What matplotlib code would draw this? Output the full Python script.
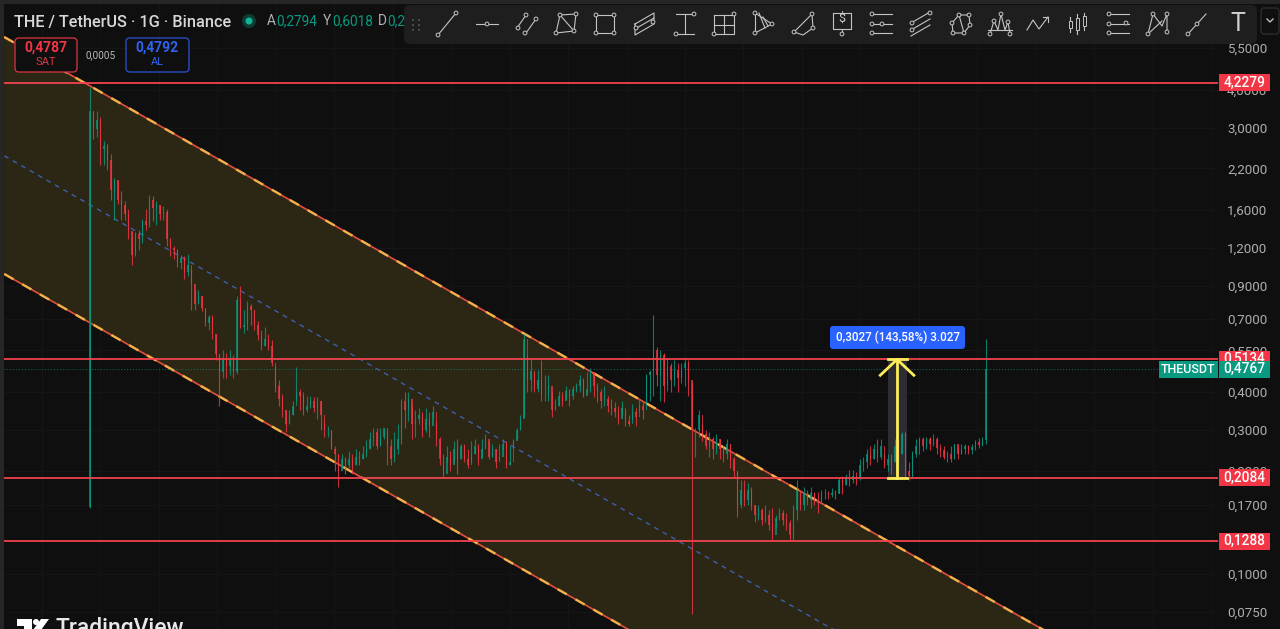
# plot.py - THE/USDT daily chart, dark theme
import matplotlib
matplotlib.use("Agg")
import matplotlib.pyplot as plt
import numpy as np
from matplotlib.patches import Rectangle, FancyBboxPatch, Polygon, Circle
from matplotlib.ticker import FuncFormatter, NullLocator

plt.rcParams["font.family"] = ["Roboto", "DejaVu Sans"]

BG = "#0f0f0f"
UP = "#089981"
DOWN = "#f23645"
BLUE = "#2962ff"

first_open = 0.167
closes = [
    3.40, 2.96, 3.19, 2.54, 2.60, 2.35, 1.87, 2.02, 1.73, 1.67,
    1.55, 1.36, 1.14, 1.33, 1.28, 1.47, 1.43, 1.73, 1.63, 1.67,
    1.55, 1.58, 1.28, 1.20, 1.18, 1.07, 1.11, 1.00, 1.05, 0.91,
    0.78, 0.83, 0.76, 0.68, 0.71, 0.625, 0.535, 0.465, 0.515, 0.49,
    0.51, 0.465, 0.81, 0.655, 0.665, 0.77, 0.75, 0.665, 0.62, 0.57,
    0.60, 0.57, 0.50, 0.42, 0.38, 0.35, 0.315, 0.335, 0.36, 0.40,
    0.39, 0.35, 0.36, 0.375, 0.355, 0.375, 0.335, 0.30, 0.30, 0.26,
    0.25, 0.22, 0.24, 0.23, 0.24, 0.23, 0.245, 0.24, 0.25, 0.26,
    0.28, 0.295, 0.265, 0.285, 0.305, 0.265, 0.24, 0.26, 0.28, 0.375,
    0.35, 0.38, 0.315, 0.325, 0.335, 0.30, 0.325, 0.31, 0.345, 0.28,
    0.24, 0.215, 0.245, 0.23, 0.26, 0.24, 0.265, 0.24, 0.23, 0.25,
    0.265, 0.24, 0.26, 0.28, 0.245, 0.26, 0.235, 0.245, 0.27, 0.23,
    0.235, 0.275, 0.30, 0.325, 0.60, 0.44, 0.47, 0.41, 0.44, 0.39,
    0.39, 0.42, 0.35, 0.36, 0.39, 0.375, 0.405, 0.39, 0.41, 0.42,
    0.44, 0.39, 0.41, 0.465, 0.42, 0.40, 0.375, 0.38, 0.36, 0.355,
    0.345, 0.325, 0.355, 0.32, 0.315, 0.345, 0.33, 0.36, 0.35, 0.455,
    0.465, 0.55, 0.455, 0.53, 0.42, 0.49, 0.44, 0.475, 0.445, 0.48,
    0.50, 0.44, 0.30, 0.30, 0.335, 0.29, 0.265, 0.28, 0.26, 0.28,
    0.26, 0.25, 0.27, 0.24, 0.22, 0.17, 0.19, 0.176, 0.19, 0.17,
    0.157, 0.163, 0.151, 0.157, 0.145, 0.135, 0.153, 0.16, 0.151, 0.148,
    0.135, 0.163, 0.19, 0.17, 0.185, 0.176, 0.185, 0.176, 0.172, 0.185,
    0.186, 0.183, 0.186, 0.184, 0.205, 0.198, 0.21, 0.205, 0.212, 0.208,
    0.23, 0.235, 0.25, 0.24, 0.26, 0.245, 0.265, 0.23, 0.24, 0.235,
    0.265, 0.25, 0.29, 0.22, 0.212, 0.25, 0.265, 0.28, 0.265, 0.28,
    0.27, 0.28, 0.262, 0.257, 0.245, 0.25, 0.24, 0.27, 0.25, 0.26,
    0.265, 0.257, 0.264, 0.273, 0.268, 0.278, 0.4767,
]
highs = [
    4.10, 3.40, 3.40, 3.25, 2.70, 2.65, 2.45, 2.05, 2.00, 1.85,
    1.72, 1.62, 1.36, 1.35, 1.38, 1.50, 1.62, 1.80, 1.78, 1.72,
    1.67, 1.65, 1.61, 1.29, 1.22, 1.19, 1.14, 1.13, 1.15, 1.02,
    0.87, 0.87, 0.83, 0.76, 0.72, 0.72, 0.625, 0.53, 0.55, 0.54,
    0.55, 0.53, 0.83, 0.90, 0.75, 0.80, 0.78, 0.75, 0.69, 0.64,
    0.655, 0.625, 0.595, 0.49, 0.44, 0.395, 0.35, 0.35, 0.375, 0.485,
    0.41, 0.40, 0.39, 0.39, 0.385, 0.385, 0.375, 0.32, 0.31, 0.30,
    0.265, 0.25, 0.25, 0.245, 0.255, 0.25, 0.26, 0.255, 0.265, 0.278,
    0.295, 0.305, 0.305, 0.305, 0.305, 0.30, 0.28, 0.295, 0.315, 0.38,
    0.40, 0.40, 0.36, 0.35, 0.355, 0.345, 0.355, 0.345, 0.36, 0.32,
    0.285, 0.25, 0.265, 0.255, 0.275, 0.28, 0.27, 0.27, 0.26, 0.275,
    0.28, 0.27, 0.28, 0.29, 0.275, 0.27, 0.26, 0.27, 0.28, 0.275,
    0.265, 0.28, 0.305, 0.335, 0.625, 0.53, 0.515, 0.465, 0.475, 0.51,
    0.455, 0.455, 0.405, 0.38, 0.405, 0.40, 0.42, 0.41, 0.42, 0.43,
    0.455, 0.445, 0.465, 0.48, 0.465, 0.43, 0.41, 0.42, 0.39, 0.38,
    0.37, 0.36, 0.375, 0.35, 0.335, 0.365, 0.355, 0.38, 0.375, 0.46,
    0.475, 0.72, 0.565, 0.55, 0.54, 0.52, 0.50, 0.51, 0.50, 0.50,
    0.52, 0.51, 0.43, 0.305, 0.35, 0.315, 0.30, 0.295, 0.285, 0.29,
    0.28, 0.265, 0.28, 0.27, 0.245, 0.22, 0.205, 0.205, 0.20, 0.195,
    0.17, 0.17, 0.165, 0.17, 0.163, 0.165, 0.157, 0.165, 0.163, 0.16,
    0.151, 0.17, 0.205, 0.185, 0.195, 0.19, 0.195, 0.187, 0.187, 0.19,
    0.192, 0.189, 0.193, 0.19, 0.21, 0.212, 0.215, 0.222, 0.222, 0.218,
    0.24, 0.245, 0.26, 0.265, 0.27, 0.28, 0.28, 0.25, 0.25, 0.25,
    0.28, 0.28, 0.295, 0.295, 0.235, 0.255, 0.28, 0.285, 0.285, 0.285,
    0.285, 0.29, 0.285, 0.27, 0.265, 0.255, 0.265, 0.27, 0.265, 0.27,
    0.27, 0.268, 0.27, 0.278, 0.283, 0.285, 0.6018,
]
lows = [
    0.165, 2.75, 2.80, 2.25, 2.25, 2.18, 1.73, 1.49, 1.68, 1.49,
    1.49, 1.28, 1.05, 1.13, 1.18, 1.25, 1.38, 1.41, 1.47, 1.43,
    1.49, 1.49, 1.22, 1.13, 1.10, 1.04, 1.02, 0.95, 0.97, 0.75,
    0.75, 0.78, 0.74, 0.66, 0.64, 0.60, 0.51, 0.36, 0.445, 0.445,
    0.455, 0.445, 0.46, 0.65, 0.63, 0.64, 0.665, 0.64, 0.595, 0.55,
    0.57, 0.55, 0.49, 0.40, 0.36, 0.33, 0.295, 0.315, 0.335, 0.375,
    0.35, 0.335, 0.345, 0.355, 0.345, 0.325, 0.30, 0.285, 0.285, 0.26,
    0.22, 0.195, 0.225, 0.215, 0.225, 0.215, 0.23, 0.23, 0.24, 0.245,
    0.26, 0.265, 0.26, 0.265, 0.28, 0.23, 0.23, 0.235, 0.25, 0.27,
    0.305, 0.32, 0.28, 0.285, 0.315, 0.285, 0.295, 0.285, 0.325, 0.265,
    0.23, 0.21, 0.235, 0.22, 0.235, 0.215, 0.24, 0.235, 0.225, 0.235,
    0.25, 0.23, 0.245, 0.26, 0.24, 0.245, 0.225, 0.24, 0.26, 0.225,
    0.23, 0.26, 0.28, 0.30, 0.33, 0.40, 0.405, 0.40, 0.40, 0.375,
    0.375, 0.375, 0.33, 0.35, 0.36, 0.36, 0.38, 0.36, 0.38, 0.40,
    0.40, 0.385, 0.40, 0.40, 0.385, 0.37, 0.355, 0.36, 0.345, 0.335,
    0.33, 0.315, 0.335, 0.31, 0.31, 0.325, 0.31, 0.345, 0.325, 0.37,
    0.375, 0.39, 0.42, 0.375, 0.37, 0.405, 0.40, 0.42, 0.40, 0.43,
    0.42, 0.39, 0.074, 0.245, 0.285, 0.275, 0.26, 0.245, 0.24, 0.25,
    0.24, 0.235, 0.24, 0.225, 0.21, 0.155, 0.165, 0.168, 0.17, 0.163,
    0.149, 0.151, 0.145, 0.149, 0.14, 0.13, 0.143, 0.151, 0.145, 0.14,
    0.13, 0.13, 0.151, 0.163, 0.163, 0.17, 0.165, 0.17, 0.16, 0.172,
    0.178, 0.177, 0.18, 0.178, 0.186, 0.184, 0.197, 0.196, 0.2, 0.198,
    0.205, 0.22, 0.225, 0.23, 0.24, 0.235, 0.24, 0.225, 0.22, 0.215,
    0.235, 0.24, 0.25, 0.21, 0.205, 0.21, 0.245, 0.25, 0.255, 0.26,
    0.257, 0.265, 0.25, 0.245, 0.24, 0.235, 0.235, 0.24, 0.24, 0.25,
    0.25, 0.25, 0.25, 0.257, 0.262, 0.265, 0.27,
]

tick_prices = [5.5, 4.0, 3.0, 2.2, 1.6, 1.2, 0.9, 0.7, 0.55, 0.4, 0.3, 0.22, 0.17, 0.1, 0.075]
levels = [4.2279, 0.5134, 0.2084, 0.1288]
last_price = 0.4767

# channel anchors, (bar, price)
upper_line = ([-24.5, 272.5], [5.98, 0.0654])
lower_line = ([-24.5, 154.1], [0.984, 0.0654])
mid_line = ([-24.5, 212.6], [2.42, 0.0654])

# measure tool
measure_bars = [227.9, 233.3]
measure_mid = 230.6
measure_from = 0.2084
measure_to = 0.5134
arrow_price = 0.455

fig = plt.figure(figsize=(12.8, 6.29), dpi=100, facecolor=BG)
ax = fig.add_axes([4 / 1280, 0, 1214 / 1280, 625 / 629], facecolor=BG)
ax.set_yscale("log")
ax.set_xlim(-24.57, 322.3)
ax.set_ylim(0.0659, 7.69)

ax.yaxis.tick_right()
ax.yaxis.set_minor_locator(NullLocator())
ax.set_yticks(tick_prices)
ax.yaxis.set_major_formatter(FuncFormatter(lambda v, _: f"{v:.4f}".replace(".", ",")))
ax.tick_params(axis="y", length=0, pad=6.5, labelsize=9.6, labelcolor="#aeaeae")
ax.set_xticks(np.arange(-13.7, 322, 16.7))
ax.tick_params(axis="x", length=0, labelbottom=False)
ax.set_axisbelow(True)  # keep the grid under the channel fill
ax.grid(True, color="#161616", lw=0.7)
for s in ax.spines.values():
    s.set_visible(False)

# channel
ax.add_patch(Polygon(list(zip(upper_line[0], upper_line[1])) + list(zip(lower_line[0][::-1], lower_line[1][::-1])),
                     closed=True, fc="#2c2714", ec="none", zorder=1))
for xs, ys in (upper_line, lower_line):
    ax.plot(xs, ys, color="#e0523f", lw=1.2, zorder=2)
    ax.plot(xs, ys, color="#f4b04a", lw=1.7, dashes=(4.5, 4.2), zorder=2.1)
ax.plot(mid_line[0], mid_line[1], color="#3c5fb0", lw=1.0, dashes=(3.5, 3.5), zorder=2)

# candles
opens = [first_open] + closes[:-1]
for i in range(len(closes)):
    c = UP if closes[i] >= opens[i] else DOWN
    ax.plot([i, i], [lows[i], highs[i]], color=c, lw=0.8, alpha=0.8, zorder=3, solid_capstyle="butt")
    ax.bar(i, abs(closes[i] - opens[i]), bottom=min(closes[i], opens[i]), width=0.4,
           color=c, alpha=0.75, linewidth=0, zorder=3)

# levels
ax.axhline(last_price, color=UP, lw=0.7, ls=(0, (1, 2)), alpha=0.7, zorder=2.5)
for lv in levels:
    ax.axhline(lv, color="#f0434f", lw=1.3, zorder=4)

# measure tool
ax.add_patch(Rectangle((measure_bars[0], measure_from), measure_bars[1] - measure_bars[0],
                       measure_to - measure_from, fc="#2b2d33", ec="none", zorder=2.8))
ax.plot([measure_mid, measure_mid], [measure_from, measure_to], color="#ffee58", lw=2, zorder=5)
ax.plot(measure_bars, [measure_from, measure_from], color="#ffee58", lw=2, zorder=5)
ax.plot(measure_bars, [measure_to, measure_to], color="#ffee58", lw=2, zorder=5)
ax.plot([measure_mid - 4.8, measure_mid, measure_mid + 4.8], [arrow_price, measure_to, arrow_price],
        color="#ffee58", lw=2, zorder=5)

# everything else sits on a pixel overlay
ov = fig.add_axes([0, 0, 1, 1], zorder=5)
ov.set_xlim(0, 1280)
ov.set_ylim(629, 0)
ov.axis("off")
ov.patch.set_alpha(0)


def price_y(p):
    return 629 - ax.transData.transform((0, p))[1]


def txt(x, y, s, color="#d1d4dc", size=9, ha="left", **kw):
    ov.text(x, y, s, color=color, fontsize=size, ha=ha, va="center", **kw)


def rbox(x0, y0, x1, y1, fc, ec="none", r=4, lw=1.0, z=2):
    ov.add_patch(FancyBboxPatch((x0 + r, y0 + r), x1 - x0 - 2 * r, y1 - y0 - 2 * r,
                                boxstyle=f"round,pad={r},rounding_size={r}", fc=fc, ec=ec, lw=lw, zorder=z))


# window edges
ov.add_patch(Rectangle((0, 0), 4, 629, fc="#262626", ec="none", zorder=1))
ov.add_patch(Rectangle((0, 0), 1280, 4, fc="#262626", ec="none", zorder=1))

# price labels
for lv in levels:
    y = price_y(lv)
    ov.add_patch(Rectangle((1219, y - 8.5), 51, 17, fc=DOWN, ec="none", zorder=2))
    txt(1244.5, y, f"{lv:.4f}".replace(".", ","), color="white", size=9.8, ha="center", fontweight="medium", zorder=3)
y = price_y(last_price)
ov.add_patch(Rectangle((1159, y - 8.5), 59, 17, fc=UP, ec="none", zorder=4))
ov.add_patch(Rectangle((1219, y - 8.5), 51, 17, fc=UP, ec="none", zorder=4))
txt(1188, y, "THEUSDT", color="white", size=9, ha="center", fontweight="medium", zorder=5)
txt(1244.5, y, f"{last_price:.4f}".replace(".", ","), color="white", size=9.8, ha="center", fontweight="medium", zorder=5)

# header
txt(14, 22, "THE / TetherUS · 1G · Binance", size=11.7, color="#d8d8d8", fontweight="medium")
ov.add_patch(Circle((249, 21), 7, fc="#0d3b34", ec="none", zorder=2))
ov.add_patch(Circle((249, 21), 3.5, fc="#12b398", ec="none", zorder=3))
for x, lab, val in [(267, "A", "0,2794"), (323, "Y", "0,6018"), (378, "D", "0,2")]:
    txt(x, 21, lab, color="#b0b3b8", size=9.8)
    txt(x + 9, 21, val, color=UP, size=9.8)

# sell / buy
rbox(15, 38, 77, 72, BG, ec="#c8323e", z=2)
txt(46, 48, "0,4787", color=DOWN, size=10, ha="center", fontweight="bold", zorder=3)
txt(46, 62, "SAT", color="#d83a46", size=8, ha="center", zorder=3)
txt(101, 55, "0,0005", color="#b8b8b8", size=7.2, ha="center", zorder=3)
rbox(126, 38, 189, 72, BG, ec="#2a4cc0", z=2)
txt(157, 48, "0,4792", color="#2f62f0", size=10, ha="center", fontweight="bold", zorder=3)
txt(157, 62, "AL", color="#2f62f0", size=8, ha="center", zorder=3)

# measure label
rbox(830, 326, 965, 349, BLUE, r=3, z=3)
txt(897.5, 337.5, "0,3027 (143,58%) 3.027", color="white", size=8.4, ha="center", fontweight="medium", zorder=4)

# toolbar
rbox(404, 5, 1257, 44, "#1e1e1e", r=6, z=6)
rbox(1261, 8, 1279, 34, BG, ec="#2c2c2c", r=3, z=6)
ov.plot([1267, 1270, 1273], [19, 22, 19], color="#c0c0c0", lw=1, zorder=7)
for gx in (413, 419):
    for gy in (20, 25, 30):
        ov.add_patch(Circle((gx, gy), 1, fc="#555555", ec="none", zorder=7))

icons = [
    (447, [[(-9, 11), (9, -11)]], [(-9, 11), (9, -11)]),
    (487, [[(-11, 0), (11, 0)]], [(0, 0)]),
    (527, [[(-10, 4), (-1, -9)], [(-1, 9), (9, -5)]], [(-9, 4), (-1, -9), (-2, 9), (9, -5)]),
    (566, [[(-10, 9), (-6, -9), (10, -10), (8, 7), (-10, 9)], [(-6, -9), (8, 7)]], [(-10, 9), (-6, -9), (10, -10), (8, 7)]),
    (605, [[(-9, -9), (9, -9), (9, 9), (-9, 9), (-9, -9)]], [(-9, -9), (9, -9), (9, 9), (-9, 9)]),
    (645, [[(-10, 0), (9, -11), (9, 0), (-10, 11), (-10, 0)], [(-10, 5), (9, -6)]], [(-9, 4), (8, -2)]),
    (685, [[(-9, -10), (9, -10)], [(-9, 10), (9, 10)], [(0, -10), (0, 10)]], [(9, -10), (-9, 10)]),
    (724, [[(-10, -9), (10, -9), (10, 10), (-10, 10), (-10, -9)], [(0, -9), (0, 10)], [(-10, 1), (10, 1)]], [(10, -10), (-10, 10)]),
    (763, [[(-8, -11), (-8, 9)], [(-8, -11), (9, 0), (-8, 9)], [(-4, -11), (2, 4)], [(0, -7), (5, 2)]], [(-8, -11), (-8, 9), (9, 0)]),
    (803, [[(9, -10), (-9, 8)], [(9, -10), (10, 4), (0, 11), (-9, 8)]], [(9, -10), (-9, 8), (10, 4)]),
    (842, [[(-9, -11), (9, -11), (9, 5), (-9, 5), (-9, -11)], [(0, 5), (0, 9)]], [(0, 10)]),
    (881, [[(-10, -10), (11, -10)], [(-10, 0), (11, 0)], [(-10, 9), (11, 9)]], [(-9, -10), (-9, 0), (-9, 9), (1, 0)]),
    (921, [[(-10, -1), (9, -12)], [(-10, 6), (9, -5)], [(-10, 12), (9, 1)]], [(-9, -1), (9, -11), (-9, 6)]),
    (961, [[(-8, 9), (-9, -1), (-2, -9), (8, -9), (9, 1), (3, 9), (-8, 9)], [(-2, -9), (3, 9)]], [(-8, 9), (-9, -1), (-2, -9), (8, -9), (9, 1), (3, 9)]),
    (1000, [[(-10, 10), (-6, -3), (-2, 6), (1, -10), (5, 6), (8, -2), (10, 10)], [(-12, 6), (12, 6)]], [(-10, 10), (-6, -3), (1, -10), (8, -2), (10, 10)]),
    (1037, [[(-10, 6), (-4, -4), (2, 5), (11, -7)], [(6, -7), (11, -7), (11, -2)]], []),
    (1118, [[(-10, -10), (11, -10)], [(-10, 0), (11, 0)], [(-10, 9), (11, 9)]], [(-9, -10), (8, -1), (-9, 0), (-9, 9)]),
    (1158, [[(-10, 10), (-5, -10), (4, 2), (9, -10), (9, 8)], [(-10, 10), (4, -3)]], [(-10, 10), (-5, -10), (9, -10), (9, 8)]),
    (1197, [[(-9, 10), (9, -10)]], [(-9, 10), (0, 0)]),
]
for cx, polys, nodes in icons:
    for pts in polys:
        ov.plot([cx + p[0] for p in pts], [24 + p[1] for p in pts], color="#c4c4c4", lw=0.8, zorder=7)
    for nx, ny in nodes:
        ov.add_patch(Circle((cx + nx, 24 + ny), 1.9, fc="#1e1e1e", ec="#c4c4c4", lw=0.7, zorder=8))
txt(842, 18, "$", color="#d0d0d0", size=9, ha="center", zorder=8)
txt(1238, 24, "T", color="#d0d0d0", size=18, ha="center", zorder=8)
# candle icon
for dx, y0, y1, b0, b1 in [(-7, 17, 32, 21, 28), (0, 14, 34, 18, 30), (7, 13, 30, 16, 26)]:
    ov.plot([1077 + dx, 1077 + dx], [y0, y1], color="#c4c4c4", lw=0.8, zorder=7)
    ov.add_patch(Rectangle((1075.5 + dx, b0), 3, b1 - b0, fc="#1e1e1e", ec="#c4c4c4", lw=0.7, zorder=8))

# tradingview logo, cut by the bottom edge
ov.add_patch(Polygon([(17, 619), (32, 619), (32, 630), (24, 630), (24, 626), (17, 626)], fc="white", ec="none", zorder=3))
ov.add_patch(Circle((36, 622), 3, fc="white", ec="none", zorder=3))
ov.add_patch(Polygon([(41, 619), (49, 619), (41, 630), (33, 630)], fc="white", ec="none", zorder=3))
ov.text(56, 635, "TradingView", color="#e8e8e8", fontsize=16.5, ha="left", va="baseline", fontweight="medium", zorder=3)

fig.savefig("out.png", dpi=100, facecolor=BG)
